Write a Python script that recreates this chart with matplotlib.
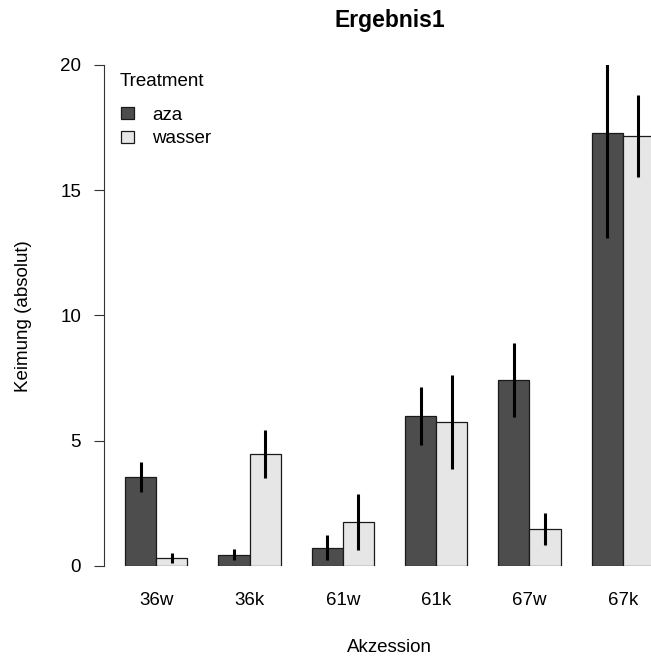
import matplotlib
matplotlib.use('Agg')
import matplotlib.pyplot as plt
import numpy as np

plt.rcParams['font.family'] = ['Liberation Sans', 'DejaVu Sans']

groups = ['36w', '36k', '61w', '61k', '67w', '67k']
aza = [3.57, 0.45, 0.73, 6.0, 7.43, 17.3]
aza_err = [0.6, 0.22, 0.5, 1.15, 1.48, 4.2]
wasser = [0.31, 4.46, 1.76, 5.76, 1.47, 17.17]
wasser_err = [0.2, 0.95, 1.13, 1.87, 0.65, 1.65]

W, H = 651, 659
fs = 13.5
fig = plt.figure(figsize=(W / 100, H / 100), dpi=100)
fig.patch.set_facecolor('#FFFFFF')
# plot region runs past the right edge, like the cropped original
ax = fig.add_axes([104 / W, 93 / H, (675 - 104) / W, 501 / H])

x = np.arange(len(groups)) * 3 + 1
ax.bar(x, aza, width=1, align='edge', color='#4D4D4D', edgecolor='#1a1a1a',
       linewidth=0.9, label='aza')
ax.bar(x + 1, wasser, width=1, align='edge', color='#E6E6E6', edgecolor='#1a1a1a',
       linewidth=0.9, label='wasser')
ax.errorbar(x + 0.5, aza, yerr=aza_err, fmt='none', ecolor='black',
            elinewidth=2.2, capsize=0)
ax.errorbar(x + 1.5, wasser, yerr=wasser_err, fmt='none', ecolor='black',
            elinewidth=2.2, capsize=0)

ax.set_xlim(0.32, 18.68)
ax.set_ylim(0, 20)
ax.set_yticks([0, 5, 10, 15, 20])
ax.set_xticks(x + 1)
ax.set_xticklabels(groups)
ax.tick_params(axis='x', length=0, pad=19, labelsize=fs)
ax.tick_params(axis='y', length=7.5, width=0.8, pad=9, labelsize=fs, color='#333333')
for s in ['top', 'right', 'bottom']:
    ax.spines[s].set_visible(False)
ax.spines['left'].set_color('#333333')
ax.spines['left'].set_linewidth(0.8)

fig.text(389.5 / W, 1 - 20 / H, 'Ergebnis1', ha='center', va='center',
         fontsize=16.5, fontweight='bold')
fig.text(389.5 / W, 1 - 648 / H, 'Akzession', ha='center', va='center', fontsize=fs)
fig.text(24 / W, 1 - 316 / H, 'Keimung (absolut)', ha='center', va='center',
         rotation=90, fontsize=fs)

fig.text(120 / W, 1 - 81 / H, 'Treatment', ha='left', va='center', fontsize=fs)
leg = ax.legend(frameon=False, loc='upper left',
                bbox_to_anchor=(121 / W, 1 - 107 / H), bbox_transform=fig.transFigure,
                fontsize=fs, handlelength=0.7, handleheight=0.6,
                handletextpad=0.95, labelspacing=0.33, borderpad=0, borderaxespad=0)

fig.savefig('out.png', dpi=100)
